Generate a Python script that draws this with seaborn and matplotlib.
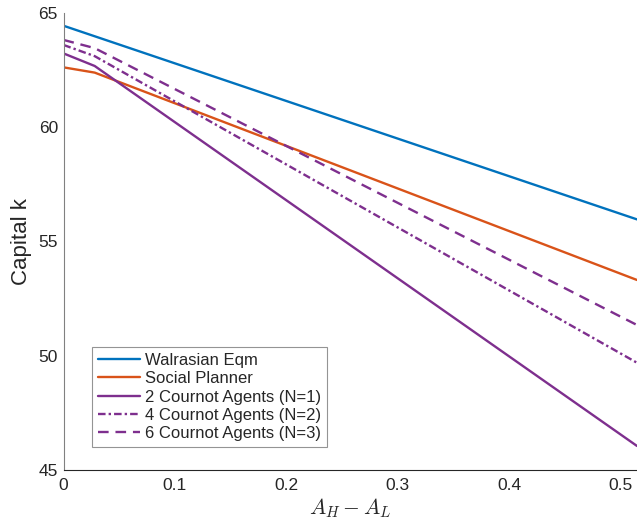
import matplotlib
matplotlib.use("Agg")
import matplotlib.pyplot as plt
import numpy as np
import pandas as pd
import seaborn as sns

# values
x_vals = [0.0, 0.028, 0.515]
walrasian = [64.43, 64.0, 55.96]
planner = [62.61, 62.38, 53.31]
cournot_2 = [63.22, 62.67, 46.05]
cournot_4 = [63.59, 63.10, 49.69]
cournot_6 = [63.81, 63.45, 51.34]

series_names = [
    "Walrasian Eqm",
    "Social Planner",
    "2 Cournot Agents (N=1)",
    "4 Cournot Agents (N=2)",
    "6 Cournot Agents (N=3)",
]
x_ticks = [0, 0.1, 0.2, 0.3, 0.4, 0.5]
x_tick_labels = ["0", "0.1", "0.2", "0.3", "0.4", "0.5"]
y_ticks = [45, 50, 55, 60, 65]

# the blue line has no kink, so its middle point lies on the straight line
walrasian[1] = walrasian[0] + (walrasian[2] - walrasian[0]) * x_vals[1] / x_vals[2]

sns.set_theme(style="white")
plt.rcParams["font.family"] = ["Liberation Sans", "DejaVu Sans"]
plt.rcParams["mathtext.fontset"] = "cm"

colors = ["#0072BD", "#D95319", "#7E2F8E", "#7E2F8E", "#7E2F8E"]
styles = ["-", "-", "-", (0, (3.2, 1.3, 1.0, 1.3)), (0, (4.5, 2.9))]
all_y = [walrasian, planner, cournot_2, cournot_4, cournot_6]

fig = plt.figure(figsize=(6.37, 5.25), dpi=100)
ax = fig.add_axes([0.0997, 0.1048, 0.9003, 0.871])

for name, ys, c, ls in zip(series_names, all_y, colors, styles):
    df = pd.DataFrame({"x": x_vals, "k": ys})
    sns.lineplot(data=df, x="x", y="k", ax=ax, color=c, linewidth=1.7,
                 linestyle=ls, label=name)

ax.set_xlim(0, 0.515)
ax.set_ylim(45, 65)
ax.set_xticks(x_ticks)
ax.set_xticklabels(x_tick_labels)
ax.set_yticks(y_ticks)
ax.tick_params(direction="in", length=5, width=0.6, labelsize=12.5,
               colors="#262626", pad=4)
ax.tick_params(axis="x", pad=6)

for side in ["top", "right"]:
    ax.spines[side].set_visible(False)
ax.spines["left"].set_color("#808080")
ax.spines["bottom"].set_color("#262626")
ax.spines["left"].set_linewidth(0.8)
ax.spines["bottom"].set_linewidth(0.8)

ax.set_xlabel("$A_H - A_L$", fontsize=15.5, color="#262626", labelpad=2)
ax.set_ylabel("Capital k", fontsize=16, color="#262626", labelpad=5)

leg = ax.legend(loc="lower left", bbox_to_anchor=(0.05, 0.05), fontsize=12,
                frameon=True, fancybox=False, borderpad=0.35,
                labelspacing=0.2, handlelength=2.5, handletextpad=0.3,
                borderaxespad=0)
leg.get_frame().set_edgecolor("#7a7a7a")
leg.get_frame().set_linewidth(0.8)
for t in leg.get_texts():
    t.set_color("#262626")

fig.savefig("out.png", dpi=100)
